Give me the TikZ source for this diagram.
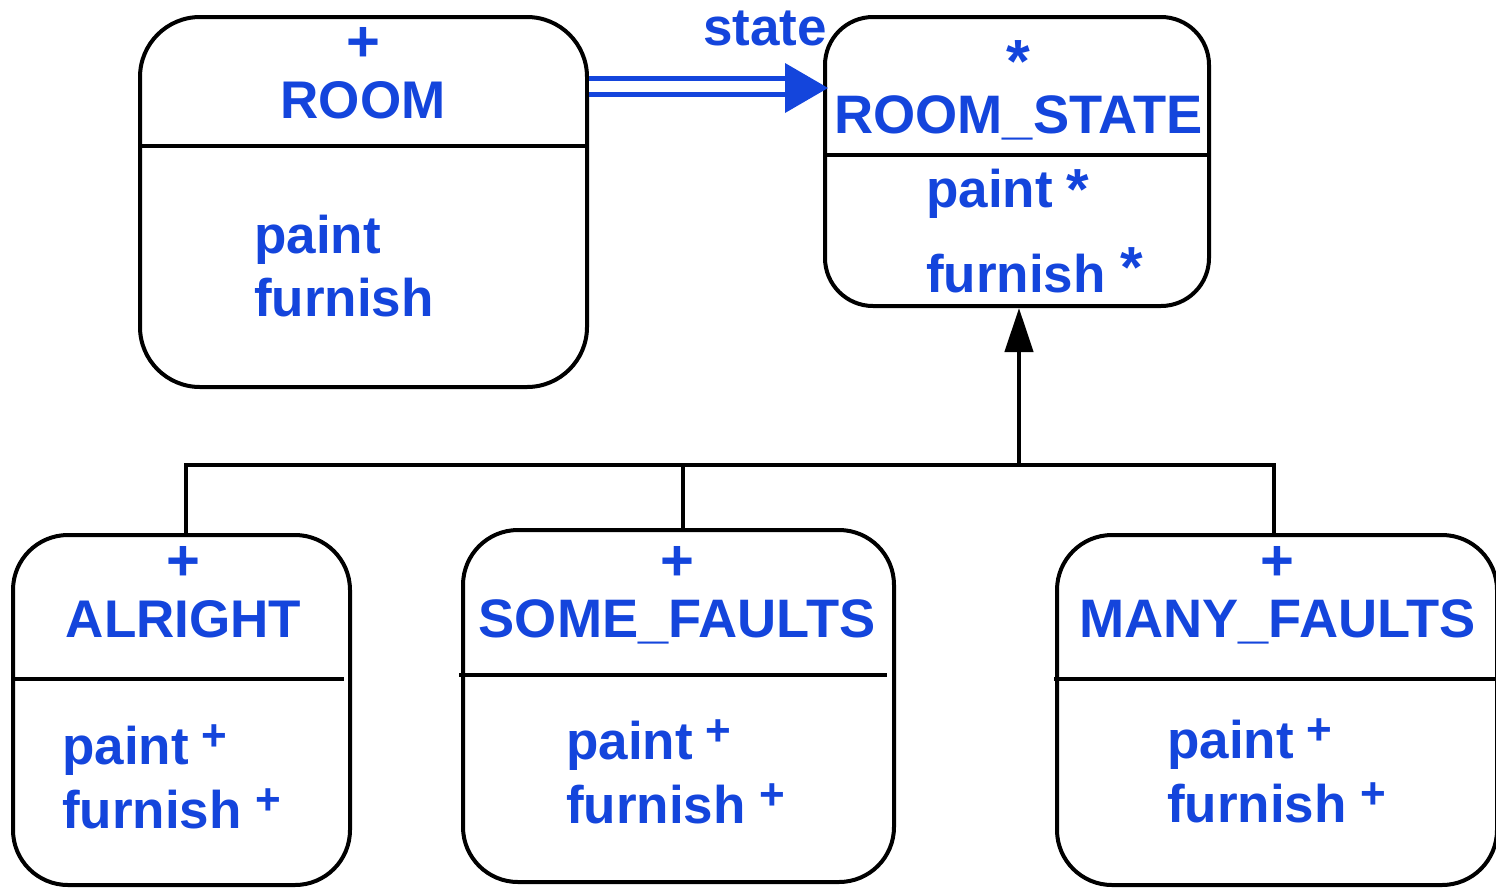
\documentclass[tikz,border=0pt]{standalone}
\usepackage{fontspec}
\setmainfont{Liberation Sans}
\usetikzlibrary{arrows.meta}
\definecolor{tblue}{RGB}{20,69,220}
\newcommand\plussup[1]{\hspace{#1pt}\raisebox{14pt}{\fontsize{44}{44}\selectfont +}}
\newcommand\astsup[2]{\hspace{#1pt}\raisebox{#2pt}{\fontsize{58}{58}\selectfont *}}
\begin{document}
\begin{tikzpicture}[x=1pt,y=-1pt,
  box/.style={draw=black, line width=4pt, rounded corners=#1, inner sep=0pt},
  box/.default=55pt,
  divl/.style={draw=black, line width=4pt},
  ttl/.style={anchor=base, inner sep=0pt, text=tblue, font=\bfseries\fontsize{53}{60}\selectfont},
  wttl/.style={ttl, font=\bfseries\fontsize{54.2}{60}\selectfont},
  sym/.style={anchor=base, inner sep=0pt, text=tblue, font=\bfseries\fontsize{58}{60}\selectfont},
  attr/.style={anchor=base west, inner sep=0pt, text=tblue, font=\bfseries\fontsize{53}{60}\selectfont},
  genl/.style={draw=black, line width=4.5pt},
  dbl/.style={draw=tblue, line width=5pt, double=white, double distance=11pt}
]
\useasboundingbox (0,0) rectangle (1496,887);

% boxes
\node[box=60pt, minimum width=447pt, minimum height=370pt] (room) at (363.5,202) {};
\node[box=48pt, minimum width=384pt, minimum height=289pt] (rs) at (1017,161.5) {};
\node[box=55pt, minimum width=337pt, minimum height=350pt] (alright) at (181.5,710) {};
\node[box=55pt, minimum width=431pt, minimum height=352pt] (some) at (678.5,706) {};
\node[box=55pt, minimum width=440pt, minimum height=350pt] (many) at (1277,710) {};

% dividers
\draw[divl] (140,146) -- (587,146);
\draw[divl] (825,155) -- (1209,155);
\draw[divl] (12,679) -- (344,679);
\draw[divl] (459,675) -- (887,675);
\draw[divl] (1054,679) -- (1496,679);

% ROOM texts
\node[sym] (roomplus) at (363.5,61) {+};
\node[ttl] (roomtitle) at (363,118) {ROOM};
\node[attr] (roompaint) at (254,253) {paint};
\node[attr] (roomfurn) at (254,316) {furnish};

% ROOM_STATE texts
\node[anchor=base, inner sep=0pt, text=tblue,
      font=\bfseries\fontsize{61}{61}\selectfont] (rsast) at (1018,82.5) {*};
\node[wttl] (rstitle) at (1018.5,133) {ROOM\_STATE};
\node[attr] (rspaint) at (926,207) {paint\astsup{14}{-2}};
\node[attr] (rsfurn) at (926,292) {furnish\astsup{15}{5}};

% ALRIGHT texts
\node[sym] (alplus) at (183,580) {+};
\node[ttl] (altitle) at (183.5,637) {ALRIGHT};
\node[attr] (alpaint) at (62,764) {paint\plussup{12.5}};
\node[attr] (alfurn) at (62,828) {furnish\plussup{13.5}};

% SOME_FAULTS texts
\node[sym] (soplus) at (677.5,580) {+};
\node[wttl] (sotitle) at (677,637) {SOME\_FAULTS};
\node[attr] (sopaint) at (566,759) {paint\plussup{12.5}};
\node[attr] (sofurn) at (566,823) {furnish\plussup{13.5}};

% MANY_FAULTS texts
\node[sym] (maplus) at (1277.5,580) {+};
\node[wttl] (matitle) at (1277.5,637) {MANY\_FAULTS};
\node[attr] (mapaint) at (1167,758) {paint\plussup{12.5}};
\node[attr] (mafurn) at (1167,822) {furnish\plussup{13.5}};

% association ROOM -> ROOM_STATE
\node[attr] (statelbl) at (703,45) {state};
\draw[dbl] (room.east |- 0,86.5) -- (785,86.5);
\fill[tblue] (785,63) -- ([xshift=5pt]rs.west |- 0,88) -- (785,113) -- cycle;

% generalization
\coordinate (junc) at (1019,465);
\draw[genl] (186,0 |- alright.north) -- (186,465) -- (1274,465) -- (1274,0 |- many.north);
\draw[genl] (683,0 |- some.north) -- (683,465);
\draw[genl, -{Triangle[length=44pt,width=28pt]}] (junc) -- (1019,0 |- rs.south);
\end{tikzpicture}
\end{document}
